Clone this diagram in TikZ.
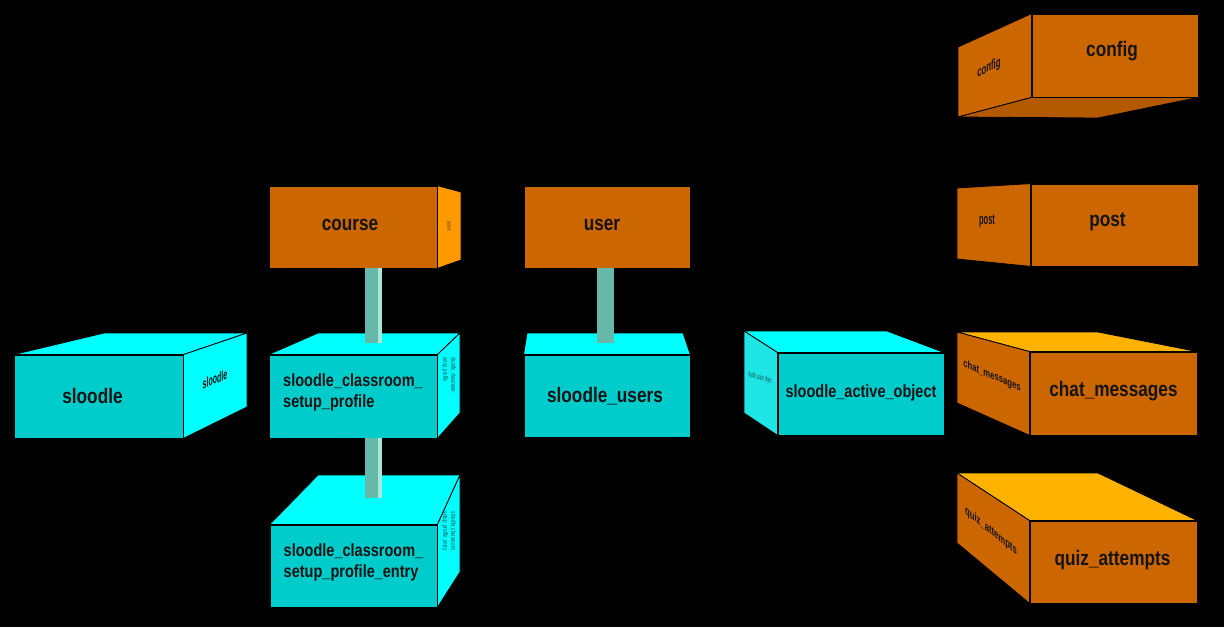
\documentclass[tikz,border=0pt]{standalone}
\usepackage{fontspec}
\setmainfont{Liberation Sans}
\newfontfamily\labfont[FakeStretch=0.82]{Liberation Sans}
\definecolor{cyfront}{HTML}{00CCCC}
\definecolor{cylight}{HTML}{00FFFF}
\definecolor{cyside}{HTML}{1EE6E6}
\definecolor{orfront}{HTML}{CC6600}
\definecolor{orlight}{HTML}{FFB300}
\definecolor{orside}{HTML}{FF9900}
\definecolor{ordark}{HTML}{B35900}
\definecolor{barcol}{HTML}{66B8A8}
\definecolor{barhi}{HTML}{A8E8D8}
\definecolor{txt}{HTML}{141414}
\begin{document}
\begin{tikzpicture}[x=1pt,y=-1pt,
  box/.style={draw=black, line width=0.8pt, inner sep=0pt},
  cybox/.style={box, fill=cyfront},
  orbox/.style={box, fill=orfront},
  lab/.style={inner sep=0pt, text=txt, font=\labfont\fontsize{21}{24}\selectfont\bfseries},
  smalllab/.style={inner sep=0pt, text=txt, align=left, font=\labfont\fontsize{17.7}{21}\selectfont\bfseries},
  face/.style={draw=black, line width=0.8pt, line join=round},
  sidetext/.style={inner sep=0pt, text=txt, transform shape,
    font=\fontsize{12}{12}\selectfont\bfseries},
  blurtext/.style={inner sep=0pt, text=txt, opacity=0.55, transform shape,
    font=\fontsize{7}{8}\selectfont\bfseries, align=left},
  bar/.style={draw=barcol, line width=17pt, line cap=butt},
  barstripe/.style={draw=barhi, line width=4pt, line cap=butt}
]
\useasboundingbox (0,0) rectangle (1224,627);
\fill[black] (0,0) rectangle (1224,627);

% ---------- front faces ----------
\node[cybox, minimum width=169pt, minimum height=83pt] (sloodle) at (98.5,396.5) {};
\node[orbox, minimum width=168pt, minimum height=82pt] (course) at (353,227) {};
\node[cybox, minimum width=168pt, minimum height=83pt] (profile) at (353,396.5) {};
\node[cybox, minimum width=167pt, minimum height=82pt] (entry) at (353.5,566) {};
\node[orbox, minimum width=166pt, minimum height=82pt] (user) at (607,227) {};
\node[cybox, minimum width=166pt, minimum height=82pt] (users) at (607,396) {};
\node[cybox, minimum width=166pt, minimum height=82pt] (active) at (861,394) {};
\node[orbox, minimum width=166pt, minimum height=83pt] (config) at (1115,55.5) {};
\node[orbox, minimum width=167pt, minimum height=82pt] (post) at (1114.5,225) {};
\node[orbox, minimum width=167pt, minimum height=83pt] (chat) at (1113.5,393.5) {};
\node[orbox, minimum width=167pt, minimum height=82pt] (quiz) at (1113.5,562) {};

% ---------- labels ----------
\node[lab] (sloodlelab) at ([xshift=-6pt,yshift=1pt]sloodle.center) {sloodle};
\node[lab] (courselab) at ([xshift=-3pt,yshift=2pt]course.center) {course};
\node[smalllab] (profilelab) at ([yshift=4pt]profile.center) {sloodle\_classroom\_\\setup\_profile};
\node[smalllab] (entrylab) at ([yshift=4pt]entry.center) {sloodle\_classroom\_\\setup\_profile\_entry};
\node[lab] (userlab) at ([xshift=-5pt,yshift=2pt]user.center) {user};
\node[lab] (userslab) at ([xshift=-2pt]users.center) {sloodle\_users};
\node[smalllab] (activelab) at ([yshift=1pt]active.center) {sloodle\_active\_object};
\node[lab] (configlab) at ([xshift=-3pt,yshift=4pt]config.center) {config};
\node[lab] (postlab) at ([xshift=-7pt,yshift=3pt]post.center) {post};
\node[lab] (chatlab) at ([yshift=2pt]chat.center) {chat\_messages};
\node[lab] (quizlab) at ([xshift=-1pt,yshift=2pt]quiz.center) {quiz\_attempts};

% ---------- side, top and bottom faces ----------
% sloodle
\filldraw[face, fill=cylight] (sloodle.north west) -- (104,333) -- (247,333) -- (sloodle.north east) -- cycle;
\filldraw[face, fill=cylight] (sloodle.north east) -- (247,333) -- (247,407) -- (sloodle.south east) -- cycle;
\node[sidetext, yslant=0.45, xscale=0.5, font=\fontsize{14}{14}\selectfont\bfseries] (sloodleside) at (215,379) {sloodle};
% course
\filldraw[face, fill=orside] (course.north east) -- (461,192) -- (461,260) -- (course.south east) -- cycle;
\node[blurtext, rotate=-90, xscale=0.5, font=\fontsize{6}{6}\selectfont\bfseries] (courseside) at (449,226) {course};
% profile
\filldraw[face, fill=cylight] (profile.north west) -- (318,333) -- (460,333) -- (profile.north east) -- cycle;
\filldraw[face, fill=cylight] (profile.north east) -- (460,333) -- (460,413) -- (profile.south east) -- cycle;
\node[blurtext, rotate=-90, xscale=0.55] (profileside) at (449,376) {sloodle\_classroom\_\\setup\_profile};
% entry
\filldraw[face, fill=cylight] (entry.north west) -- (318,475) -- (460,475) -- (entry.north east) -- cycle;
\filldraw[face, fill=cylight] (entry.north east) -- (460,475) -- (460,572) -- (entry.south east) -- cycle;
\node[blurtext, rotate=-90, xscale=0.6] (entryside) at (449,532) {sloodle\_classroom\_\\setup\_profile\_entry};
% users
\filldraw[face, fill=cylight] (users.north west) -- (527,333) -- (683,333) -- (users.north east) -- cycle;
% active object
\filldraw[face, fill=cylight] (744,331) -- (887,331) -- (active.north east) -- (active.north west) -- cycle;
\filldraw[face, fill=cyside] (744,331) -- (active.north west) -- (active.south west) -- (744,413) -- cycle;
\node[blurtext, yslant=-0.3, xscale=0.28, font=\fontsize{8}{8}\selectfont\bfseries] (activeside) at (760,378) {sloodle\_active\_object};
% config
\filldraw[face, fill=orfront] (958,47) -- (config.north west) -- (config.south west) -- (958,117) -- cycle;
\filldraw[face, fill=ordark] (958,117) -- (config.south west) -- (config.south east) -- (1098,118) -- cycle;
\node[sidetext, yslant=0.5, xscale=0.55, font=\fontsize{14}{14}\selectfont\bfseries] (configside) at (989,68) {config};
% post
\filldraw[face, fill=orfront] (957,188) -- (post.north west) -- (post.south west) -- (957,259) -- cycle;
\node[sidetext, xscale=0.5, font=\fontsize{15}{15}\selectfont\bfseries] (postside) at (987,221) {post};
% chat
\filldraw[face, fill=orlight] (957,332) -- (1098,332) -- (chat.north east) -- (chat.north west) -- cycle;
\filldraw[face, fill=orfront] (957,332) -- (chat.north west) -- (chat.south west) -- (957,403) -- cycle;
\node[sidetext, yslant=-0.42, xscale=0.7, font=\fontsize{11}{11}\selectfont\bfseries] (chatside) at (992,376) {chat\_messages};
% quiz
\filldraw[face, fill=orlight] (957,473) -- (1098,473) -- (quiz.north east) -- (quiz.north west) -- cycle;
\filldraw[face, fill=orfront] (957,473) -- (quiz.north west) -- (quiz.south west) -- (957,543) -- cycle;
\node[sidetext, yslant=-0.8, xscale=0.64] (quizside) at (991,531) {quiz\_attempts};

% ---------- connectors ----------
\draw[bar] ([xshift=20.5pt]course.south) -- ([xshift=20.5pt,yshift=12pt]profile.north);
\draw[barstripe] ([xshift=27pt]course.south) -- ([xshift=27pt,yshift=12pt]profile.north);
\draw[bar] ([xshift=20.5pt]profile.south) -- ([xshift=20pt,yshift=27pt]entry.north);
\draw[barstripe] ([xshift=27pt]profile.south) -- ([xshift=26.5pt,yshift=27pt]entry.north);
\draw[bar] ([xshift=-2pt]user.south) -- ([xshift=-2pt,yshift=12pt]users.north);
\end{tikzpicture}
\end{document}
